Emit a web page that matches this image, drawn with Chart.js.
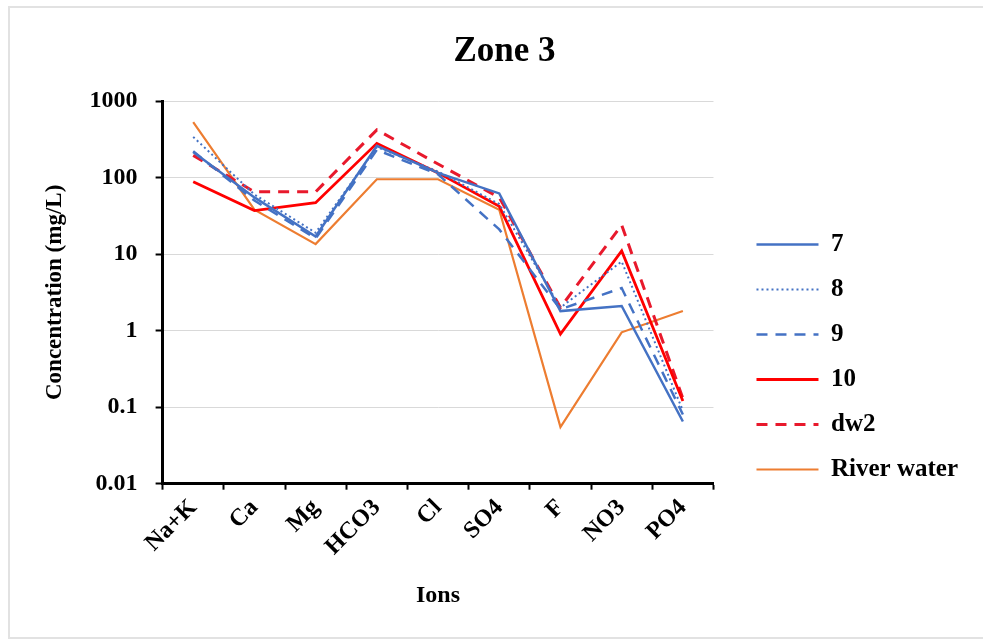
<!DOCTYPE html>
<html>
<head>
<meta charset="utf-8">
<title>Zone 3</title>
<script src="https://cdn.jsdelivr.net/npm/chart.js@4"></script>
<style>
  body { margin: 0; background: #fff; overflow: hidden; }
  #frame { position: absolute; left: 8px; top: 6px; width: 990px; height: 629px; border: 2px solid #e2e2e2; }
  #Zone3 { position: absolute; left: 0; top: 0; }
</style>
</head>
<body>
<div id="frame"></div>
<canvas id="Zone3" width="983" height="639"></canvas>
<script>
const ions = ['Na+K', 'Ca', 'Mg', 'HCO3', 'Cl', 'SO4', 'F', 'NO3', 'PO4'];

const s7 = [215, 55, 17, 260, 115, 62, 1.8, 2.1, 0.065];
const s8 = [340, 60, 19, 250, 120, 45, 2.0, 8, 0.09];
const s9 = [220, 50, 16, 230, 110, 21, 1.9, 3.6, 0.08];
const s10 = [88, 37, 47, 280, 115, 42, 0.9, 11, 0.12];
const dw2 = [195, 65, 65, 420, 150, 55, 2.0, 24, 0.13];
const river = [530, 38, 13.5, 95, 95, 38, 0.055, 0.95, 1.8];

const yTicks = [0.01, 0.1, 1, 10, 100, 1000];

const serif = "'Liberation Serif', 'Times New Roman', serif";

// legend lines with the dataset's own dash and width
function legendLabels(chart) {
    const items = Chart.defaults.plugins.legend.labels.generateLabels(chart);
    items.forEach(item => {
        const ds = chart.data.datasets[item.datasetIndex];
        item.lineDash = ds.borderDash || [];
        item.lineWidth = ds.borderWidth;
        item.strokeStyle = ds.borderColor;
        item.fontColor = '#000';
    });
    return items;
}

const ctx = document.getElementById('Zone3');
const zoneChart = new Chart(ctx, {
    type: 'line',
    data: {
        labels: ions,
        datasets: [
            { label: '7', data: s7, borderColor: '#4472C4', borderWidth: 2.5 },
            { label: '8', data: s8, borderColor: '#4472C4', borderWidth: 2, borderDash: [2, 3] },
            { label: '9', data: s9, borderColor: '#4472C4', borderWidth: 2.5, borderDash: [11, 8] },
            { label: '10', data: s10, borderColor: '#FF0000', borderWidth: 2.8 },
            { label: 'dw2', data: dw2, borderColor: '#E8192C', borderWidth: 3, borderDash: [11, 8] },
            { label: 'River water', data: river, borderColor: '#ED7D31', borderWidth: 2.2 }
        ]
    },
    options: {
        responsive: false,
        animation: false,
        devicePixelRatio: 1,
        elements: {
            point: { radius: 0, hoverRadius: 0 },
            line: { tension: 0, fill: false }
        },
        layout: {
            padding: { left: 41, right: 15, top: 0, bottom: 26 }
        },
        scales: {
            x: {
                offset: true,
                grid: {
                    display: true,
                    offset: true,
                    drawOnChartArea: false,
                    tickLength: 6,
                    tickColor: '#000',
                    tickWidth: 2
                },
                border: { color: '#000', width: 3 },
                ticks: {
                    color: '#000',
                    padding: 4,
                    minRotation: 45,
                    maxRotation: 45,
                    autoSkip: false,
                    font: { family: serif, size: 24, weight: 'bold' }
                },
                title: {
                    display: true,
                    text: 'Ions',
                    color: '#000',
                    padding: { top: 16, bottom: 3 },
                    font: { family: serif, size: 24, weight: 'bold' }
                }
            },
            y: {
                type: 'logarithmic',
                min: 0.01,
                max: 1000,
                afterBuildTicks: axis => {
                    axis.ticks = yTicks.map(v => ({ value: v }));
                },
                grid: {
                    color: '#d9d9d9',
                    lineWidth: 1,
                    tickLength: 7,
                    tickColor: '#000',
                    tickWidth: 2
                },
                border: { color: '#000', width: 3 },
                ticks: {
                    color: '#000',
                    padding: 18,
                    callback: v => String(v),
                    font: { family: serif, size: 24, weight: 'bold' }
                },
                title: {
                    display: true,
                    text: 'Concentration (mg/L)',
                    color: '#000',
                    padding: { top: 0, bottom: 3 },
                    font: { family: serif, size: 23, weight: 'bold' }
                }
            },
            gap: {
                type: 'linear',
                position: 'right',
                display: true,
                grid: { display: false },
                border: { display: false },
                ticks: { display: false },
                afterFit: scale => { scale.width = 23; }
            }
        },
        plugins: {
            title: {
                display: true,
                text: 'Zone 3',
                color: '#000',
                padding: { top: 31, bottom: 28 },
                font: { family: serif, size: 35, weight: 'bold' }
            },
            legend: {
                position: 'right',
                align: 'start',
                maxWidth: 300,
                title: {
                    display: true,
                    text: ' ',
                    padding: { top: 200, bottom: 0 },
                    font: { size: 10 }
                },
                labels: {
                    usePointStyle: true,
                    pointStyle: 'line',
                    pointStyleWidth: 62,
                    padding: 20,
                    color: '#000',
                    font: { family: serif, size: 25, weight: 'bold' },
                    generateLabels: legendLabels
                }
            },
            tooltip: { enabled: false }
        }
    }
});
</script>
</body>
</html>
